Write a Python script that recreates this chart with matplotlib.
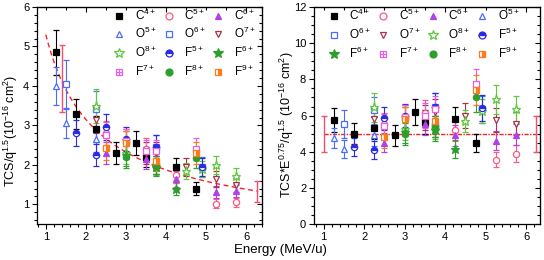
import matplotlib
matplotlib.use("Agg")
import matplotlib.pyplot as plt
import numpy as np
from matplotlib.lines import Line2D
from matplotlib.legend_handler import HandlerTuple

plt.rcParams['font.family'] = ['Liberation Sans', 'DejaVu Sans']
plt.rcParams['mathtext.fontset'] = 'custom'
plt.rcParams['mathtext.rm'] = 'Liberation Sans'
plt.rcParams['mathtext.it'] = 'Liberation Sans:italic'

# ---- data ----
ions = ["C4+", "C5+", "C6+", "O5+", "O6+", "O7+", "O8+", "F5+", "F6+", "F7+", "F8+", "F9+"]

energy = {
    "C4+": [1.25, 1.75, 2.25, 2.75, 3.25, 3.5, 3.75, 4.25, 4.75],
    "C5+": [2.5, 3.5, 4.25, 5.25, 5.75],
    "C6+": [2.5, 3.5, 4.25, 5.25, 5.75],
    "O5+": [1.25, 1.5, 2.25],
    "O6+": [1.5, 2.25, 3.0, 3.75, 4.9],
    "O7+": [2.25, 3.0, 3.5, 3.75, 4.5, 5.25, 5.75],
    "O8+": [2.25, 3.0, 3.75, 4.5, 4.9, 5.25, 5.75],
    "F5+": [1.75, 2.25, 2.5, 3.0, 3.75, 4.9],
    "F6+": [3.0, 3.75, 4.25],
    "F7+": [2.5, 3.0, 3.5, 3.75, 4.75],
    "F8+": [3.0, 3.75, 4.75],
    "F9+": [2.5, 3.0, 3.75, 4.75],
}

# TCS/q^1.5 (left panel)
tcs = {
    "C4+": [4.85, 3.3, 2.9, 2.3, 2.55, 2.2, 2.0, 1.95, 1.4],
    "C5+": [2.8, 2.4, 1.75, 1.02, 1.05],
    "C6+": [2.3, 2.15, 1.65, 1.32, 1.33],
    "O5+": [4.0, 3.05, 2.65],
    "O6+": [4.05, 3.42, 2.6, 2.45, 1.95],
    "O7+": [3.15, 2.55, 2.3, 2.3, 1.95, 1.65, 1.5],
    "O8+": [3.5, 2.3, 1.95, 1.85, 1.9, 2.0, 1.72],
    "F5+": [2.8, 2.25, 2.95, 2.65, 2.45, 1.95],
    "F6+": [2.25, 1.95, 1.4],
    "F7+": [2.75, 2.6, 2.35, 2.35, 2.4],
    "F8+": [2.2, 2.0, 2.18],
    "F9+": [2.42, 2.55, 2.1, 2.3],
}
tcs_err = {
    "C4+": [0.57, 0.38, 0.33, 0.27, 0.3, 0.25, 0.22, 0.22, 0.16],
    "C5+": [0.3, 0.27, 0.2, 0.12, 0.12],
    "C6+": [0.27, 0.25, 0.2, 0.15, 0.15],
    "O5+": [0.48, 0.37, 0.32],
    "O6+": [0.62, 0.45, 0.3, 0.3, 0.25],
    "O7+": [0.33, 0.3, 0.27, 0.27, 0.22, 0.2, 0.18],
    "O8+": [0.43, 0.28, 0.2, 0.2, 0.2, 0.22, 0.2],
    "F5+": [0.33, 0.27, 0.33, 0.3, 0.3, 0.22],
    "F6+": [0.27, 0.22, 0.16],
    "F7+": [0.33, 0.3, 0.27, 0.27, 0.27],
    "F8+": [0.27, 0.22, 0.25],
    "F9+": [0.3, 0.3, 0.25, 0.28],
}

# TCS*E^0.75/q^1.5 (right panel)
scaled = {
    "C4+": [5.75, 5.0, 5.3, 4.92, 6.2, 5.65, 5.4, 5.8, 4.5],
    "C5+": [5.55, 6.15, 5.2, 3.55, 3.9],
    "C6+": [4.5, 5.55, 4.9, 4.6, 4.95],
    "O5+": [4.75, 4.15, 4.9],
    "O6+": [5.55, 6.3, 5.9, 6.5, 6.35],
    "O7+": [5.8, 5.8, 5.9, 6.2, 6.0, 5.75, 5.55],
    "O8+": [6.45, 5.25, 5.25, 5.7, 6.25, 6.9, 6.35],
    "F5+": [4.25, 4.12, 5.85, 6.0, 6.5, 6.4],
    "F6+": [5.1, 5.2, 4.15],
    "F7+": [5.45, 5.9, 6.0, 6.35, 7.75],
    "F8+": [5.0, 5.4, 7.0],
    "F9+": [4.8, 5.8, 5.7, 7.4],
}
scaled_err = {
    "C4+": [0.68, 0.58, 0.6, 0.58, 0.72, 0.65, 0.6, 0.65, 0.5],
    "C5+": [0.6, 0.7, 0.6, 0.42, 0.45],
    "C6+": [0.52, 0.63, 0.56, 0.53, 0.57],
    "O5+": [0.57, 0.5, 0.58],
    "O6+": [0.78, 0.75, 0.7, 0.75, 0.75],
    "O7+": [0.62, 0.68, 0.68, 0.72, 0.68, 0.68, 0.65],
    "O8+": [0.8, 0.62, 0.55, 0.62, 0.68, 0.8, 0.75],
    "F5+": [0.5, 0.5, 0.65, 0.65, 0.75, 0.72],
    "F6+": [0.62, 0.58, 0.48],
    "F7+": [0.65, 0.7, 0.7, 0.72, 0.85],
    "F8+": [0.6, 0.6, 0.8],
    "F9+": [0.58, 0.68, 0.62, 0.82],
}

# fit E^-0.75 and +-20% bars
fit_amp_left = 5.3
fit_exp = 0.75
fit_range = [1.0, 6.3]
fit_level_right = 5.0
bar_e_left = [1.4, 6.27]
bar_v_left = [4.2, 1.32]
bar_err_left = [0.85, 0.27]
bar_e_right = [1.0, 6.25]
bar_v_right = [5.0, 5.0]
bar_err_right = [1.0, 1.0]

# ---- styles ----
styles = {
    "C4+": dict(marker="s", color="#000000", mfc="#000000"),
    "C5+": dict(marker="o", color="#FF5A80", mfc="white"),
    "C6+": dict(marker="^", color="#B040E8", mfc="#B040E8"),
    "O5+": dict(marker="^", color="#4A6CFF", mfc="white"),
    "O6+": dict(marker="s", color="#4A6CFF", mfc="white"),
    "O7+": dict(marker="v", color="#A8324A", mfc="white"),
    "O8+": dict(marker="*", color="#5CC83C", mfc="white"),
    "F5+": dict(marker="o", color="#2B2BE0", mfc="#2B2BE0", fillstyle="top", mfcalt="white"),
    "F6+": dict(marker="*", color="#2E9E2E", mfc="#2E9E2E"),
    "F7+": dict(marker="s", color="#E85CE8", mfc="white"),
    "F8+": dict(marker="o", color="#2E9E2E", mfc="#2E9E2E"),
    "F9+": dict(marker="s", color="#FF7A1A", mfc="#FF7A1A", fillstyle="right", mfcalt="white"),
}
PINK = "#F0506E"
FITRED = "#FF2020"


def ion_label(ion):
    return r"%s$^{%s}$" % (ion[0], ion[1:])


def marker_kw(ion, ms):
    st = styles[ion]
    kw = dict(marker=st["marker"], color=st["color"], mfc=st["mfc"], mec=st["color"],
              ms=ms * (1.5 if st["marker"] == "*" else 1.0), mew=0.9)
    if "fillstyle" in st:
        kw["fillstyle"] = st["fillstyle"]
        kw["markerfacecoloralt"] = st["mfcalt"]
    return kw


def draw_points(ax, values, errors):
    for ion in ions:
        kw = marker_kw(ion, 4.5)
        ax.errorbar(energy[ion], values[ion], yerr=errors[ion], linestyle="none",
                    elinewidth=0.8, capsize=2.2, capthick=0.8, ecolor=kw["color"], **kw)
        if ion == "F7+":
            ax.plot(energy[ion], values[ion], linestyle="none", marker="+",
                    color=kw["color"], ms=4.5, mew=0.8)


def legend_handles():
    hs = []
    for ion in ions:
        h = Line2D([], [], linestyle="none", **marker_kw(ion, 5))
        if ion == "F7+":
            plus = Line2D([], [], linestyle="none", marker="+", color=styles[ion]["color"], ms=5, mew=0.8)
            h = (h, plus)
        hs.append(h)
    return hs


def add_legend(ax, ncol, bbox):
    hs = legend_handles()
    labels = [ion_label(i) for i in ions]
    n = len(ions)
    order = [i for j in range(ncol) for i in range(j, n, ncol)]
    ax.legend([hs[i] for i in order], [labels[i] for i in order], ncol=ncol,
              loc="upper right", bbox_to_anchor=bbox, frameon=False, fontsize=8.5,
              handlelength=1.0, handletextpad=0.8, columnspacing=0.55, labelspacing=0.3,
              borderaxespad=0.0, borderpad=0.3, handler_map={tuple: HandlerTuple(ndivide=1)})


def style_axes(ax):
    ax.minorticks_on()
    ax.tick_params(which="both", direction="out", labelsize=8, width=0.8, pad=2)
    ax.tick_params(which="major", length=3.5)
    ax.tick_params(which="minor", length=2)
    for sp in ax.spines.values():
        sp.set_linewidth(0.9)
    top = ax.secondary_xaxis("top")
    right = ax.secondary_yaxis("right")
    for sec in (top, right):
        sec.minorticks_on()
        sec.tick_params(which="both", direction="in", labelleft=False, labelright=False,
                        labeltop=False, labelbottom=False, width=0.8)
        sec.tick_params(which="major", length=3.5)
        sec.tick_params(which="minor", length=2)


fig = plt.figure(figsize=(5.44, 2.6), dpi=100)
ax1 = fig.add_axes([0.068, 0.138, 0.414, 0.835])
ax2 = fig.add_axes([0.577, 0.138, 0.415, 0.835])

# left panel
e_fit = np.linspace(fit_range[0], fit_range[1], 200)
ax1.plot(e_fit, fit_amp_left * e_fit ** (-fit_exp), linestyle=(0, (3.5, 2.5)), color=FITRED, lw=1.0)
ax1.errorbar(bar_e_left, bar_v_left, yerr=bar_err_left, linestyle="none", ecolor=PINK,
             elinewidth=1.0, capsize=2.5, capthick=1.0)
draw_points(ax1, tcs, tcs_err)
ax1.set_xlim(0.78, 6.4)
ax1.set_ylim(0.5, 6)
ax1.set_xticks([1, 2, 3, 4, 5, 6])
ax1.set_yticks([1, 2, 3, 4, 5, 6])
ax1.set_ylabel(r"TCS/q$^{1.5}$(10$^{-16}$ cm$^{2}$)", fontsize=9)
ax1.yaxis.set_label_coords(-0.075, 0.43)
style_axes(ax1)
add_legend(ax1, 3, (0.985, 1.014))

# right panel
ax2.plot(fit_range, [fit_level_right, fit_level_right], linestyle=(0, (3, 1, 1, 1)), color=FITRED, lw=1.0)
ax2.errorbar(bar_e_right, bar_v_right, yerr=bar_err_right, linestyle="none", ecolor=PINK,
             elinewidth=1.0, capsize=2.5, capthick=1.0)
draw_points(ax2, scaled, scaled_err)
ax2.set_xlim(0.76, 6.33)
ax2.set_ylim(0, 12)
ax2.set_xticks([1, 2, 3, 4, 5, 6])
ax2.set_yticks([0, 2, 4, 6, 8, 10, 12])
ax2.set_ylabel(r"TCS*E$^{0.75}$/q$^{1.5}$ (10$^{-16}$ cm$^{2}$)", fontsize=9)
ax2.yaxis.set_label_coords(-0.08, 0.46)
style_axes(ax2)
add_legend(ax2, 4, (0.925, 1.012))

fig.text(0.515, 0.04, "Energy (MeV/u)", ha="center", va="center", fontsize=9.5)

fig.savefig("out.png", dpi=100)
